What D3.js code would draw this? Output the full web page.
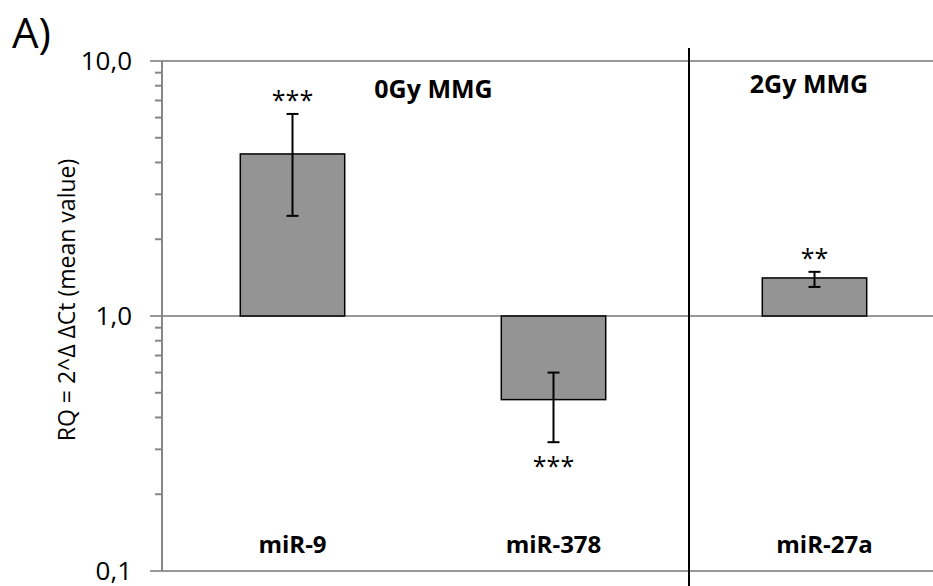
<!DOCTYPE html>
<html>
<head>
<meta charset="utf-8">
<script src="https://cdn.jsdelivr.net/npm/d3@7"></script>
<style>
  body { margin: 0; background: #fff; }
  text { font-family: "Open Sans", sans-serif; }
</style>
</head>
<body>
<svg id="chart" width="933" height="586"></svg>
<script>
// data
var categories = ["miR-9", "miR-378", "miR-27a"];
var rqValues = [4.32, 0.47, 1.41];
var errLow = [2.47, 0.32, 1.30];
var errHigh = [6.2, 0.60, 1.49];
var stars = ["***", "***", "**"];
var groupNames = ["0Gy MMG", "2Gy MMG"];
var groupMembers = [["miR-9", "miR-378"], ["miR-27a"]];
var yTicks = [0.1, 1, 10];
var yTickLabels = ["0,1", "1,0", "10,0"];

var svg = d3.select("#chart"),
    margin = {top: 61, right: -12, bottom: 15, left: 162},
    width = +svg.attr("width") - margin.left - margin.right,
    height = +svg.attr("height") - margin.top - margin.bottom,
    g = svg.append("g").attr("transform", "translate(" + margin.left + "," + margin.top + ")");

var x = d3.scaleBand()
    .domain(categories)
    .range([0, width])
    .paddingInner(0.6)
    .paddingOuter(0.3);

var y = d3.scaleLog()
    .domain([0.1, 10])
    .range([height, 0]);

// minor ticks
var minor = [];
[0.1, 1].forEach(function (base) {
    for (var k = 2; k <= 9; k++) minor.push(base * k);
});
g.append("g")
    .selectAll("line")
    .data(minor)
    .enter().append("line")
    .attr("x1", -7).attr("x2", 0)
    .attr("y1", function (d) { return y(d); })
    .attr("y2", function (d) { return y(d); })
    .attr("stroke", "#878787")
    .attr("stroke-width", 2);

// gridlines (incl. major ticks)
g.append("g")
    .selectAll("line")
    .data(yTicks)
    .enter().append("line")
    .attr("x1", -12).attr("x2", width)
    .attr("y1", function (d) { return y(d); })
    .attr("y2", function (d) { return y(d); })
    .attr("stroke", "#999")
    .attr("stroke-width", 2);

// axis line
g.append("line")
    .attr("x1", 0).attr("x2", 0)
    .attr("y1", y(10)).attr("y2", y(0.1))
    .attr("stroke", "#878787")
    .attr("stroke-width", 2);

// tick labels
g.append("g")
    .selectAll("text")
    .data(yTicks)
    .enter().append("text")
    .attr("x", -30)
    .attr("y", function (d) { return y(d); })
    .attr("dy", "0.33em")
    .attr("text-anchor", "end")
    .attr("font-size", 26)
    .attr("fill", "#000")
    .text(function (d, i) { return yTickLabels[i]; });

// axis title
svg.append("text")
    .attr("transform", "translate(75," + (margin.top + y(1) - 16) + ") rotate(-90)")
    .attr("text-anchor", "middle")
    .attr("font-size", 23)
    .attr("fill", "#000")
    .text("RQ = 2^Δ ΔCt (mean value)");

// panel label
svg.append("text")
    .attr("x", 12)
    .attr("y", 48)
    .attr("font-size", 42)
    .attr("fill", "#000")
    .text("A)");

// bars from 1.0
g.append("g")
    .selectAll("rect")
    .data(categories)
    .enter().append("rect")
    .attr("x", function (d) { return x(d); })
    .attr("width", x.bandwidth())
    .attr("y", function (d, i) { return Math.min(y(rqValues[i]), y(1)); })
    .attr("height", function (d, i) { return Math.abs(y(rqValues[i]) - y(1)); })
    .attr("fill", "#949494")
    .attr("stroke", "#000")
    .attr("stroke-width", 1.5);

// error bars
var err = g.append("g")
    .selectAll("g")
    .data(categories)
    .enter().append("g")
    .attr("transform", function (d) { return "translate(" + (x(d) + x.bandwidth() / 2) + ",0)"; });

err.append("line")
    .attr("y1", function (d, i) { return y(errLow[i]); })
    .attr("y2", function (d, i) { return y(errHigh[i]); })
    .attr("stroke", "#000").attr("stroke-width", 2);
err.append("line")
    .attr("x1", -6).attr("x2", 6)
    .attr("y1", function (d, i) { return y(errLow[i]); })
    .attr("y2", function (d, i) { return y(errLow[i]); })
    .attr("stroke", "#000").attr("stroke-width", 2);
err.append("line")
    .attr("x1", -6).attr("x2", 6)
    .attr("y1", function (d, i) { return y(errHigh[i]); })
    .attr("y2", function (d, i) { return y(errHigh[i]); })
    .attr("stroke", "#000").attr("stroke-width", 2);

// significance stars
err.append("text")
    .attr("text-anchor", "middle")
    .attr("font-size", 25)
    .attr("fill", "#000")
    .attr("y", function (d, i) {
        return rqValues[i] >= 1 ? y(errHigh[i]) - 5 : y(errLow[i]) + 33;
    })
    .text(function (d, i) { return stars[i]; });

// category labels inside the plot
g.append("g")
    .selectAll("text")
    .data(categories)
    .enter().append("text")
    .attr("x", function (d, i) { return x(d) + x.bandwidth() / 2 + (i === 2 ? 10 : 0); })
    .attr("y", y(0.1) - 18)
    .attr("text-anchor", "middle")
    .attr("font-size", 24)
    .attr("font-weight", "bold")
    .attr("fill", "#000")
    .text(function (d) { return d; });

// divider between groups
var lastOf0 = groupMembers[0][groupMembers[0].length - 1],
    firstOf1 = groupMembers[1][0];
var divX = (x(lastOf0) + x.bandwidth() + x(firstOf1)) / 2 + 5;
g.append("line")
    .attr("x1", divX).attr("x2", divX)
    .attr("y1", -13).attr("y2", height + margin.bottom)
    .attr("stroke", "#000")
    .attr("stroke-width", 2);

// group titles
var groupBounds = [[0, divX], [divX, width - 16]];
g.append("g")
    .selectAll("text")
    .data(groupNames)
    .enter().append("text")
    .attr("x", function (d, i) { return (groupBounds[i][0] + groupBounds[i][1]) / 2 + (i === 0 ? 8 : 0); })
    .attr("y", function (d, i) { return y(10) + (i === 0 ? 37 : 32); })
    .attr("text-anchor", "middle")
    .attr("font-size", 25)
    .attr("font-weight", "bold")
    .attr("fill", "#000")
    .text(function (d) { return d; });
</script>
</body>
</html>
